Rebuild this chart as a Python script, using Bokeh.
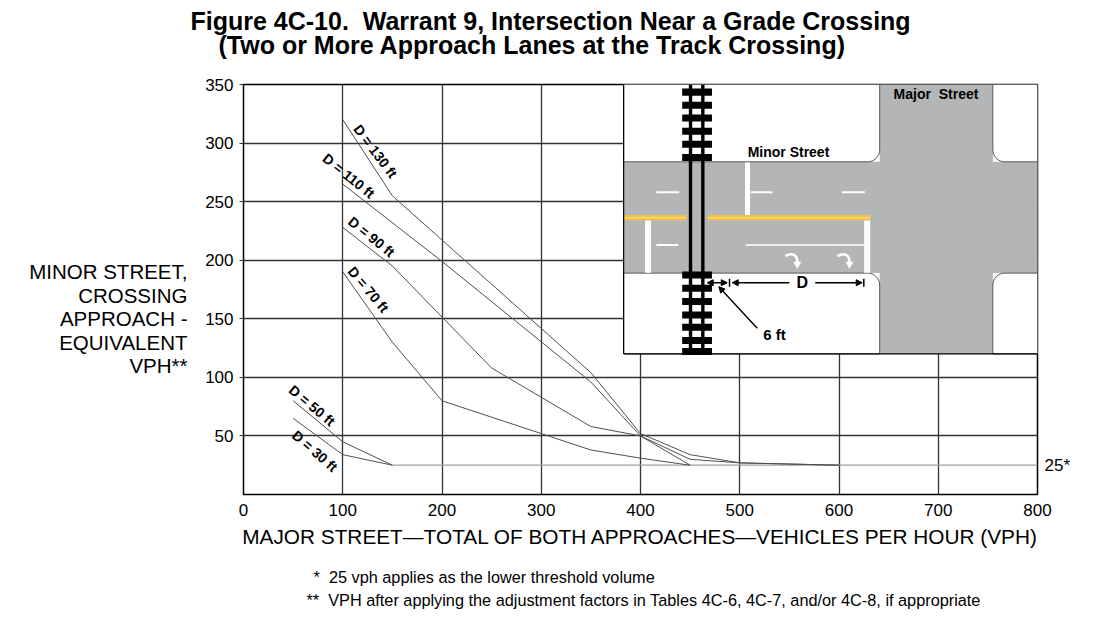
import numpy as np
from bokeh.plotting import figure
from bokeh.models import (Range1d, FixedTicker, Label, Arrow, NormalHead,
                          LinearAxis, Title)
from bokeh.core.properties import value
from bokeh.embed import file_html
from bokeh.resources import INLINE

# curves (major street vph, minor street vph)
x_d130 = [100, 150, 350, 400, 450, 500, 600]
y_d130 = [320, 255, 104, 52, 34, 27, 25]
x_d110 = [100, 200, 350, 400, 450, 500, 600]
y_d110 = [265, 199, 96, 50, 30, 27, 25]
x_d90 = [100, 150, 250, 350, 400, 450]
y_d90 = [228, 195, 108, 58, 50, 25]
x_d70 = [100, 150, 200, 350, 400, 450]
y_d70 = [190, 130, 80, 38, 31, 25]
x_d50 = [50, 100, 150]
y_d50 = [80, 45, 25]
x_d30 = [50, 100, 150]
y_d30 = [65, 34, 25]
threshold = 25
threshold_x = [150, 800]

curve_labels = ["D = 130 ft", "D = 110 ft", "D = 90 ft", "D = 70 ft", "D = 50 ft", "D = 30 ft"]
label_x = [133, 106, 129, 126, 69, 72]
label_y = [293, 272, 220, 175, 76, 37]
label_angle = [-53, -39, -39, -50, -40, -41]

x_ticks = [0, 100, 200, 300, 400, 500, 600, 700, 800]
y_ticks = [50, 100, 150, 200, 250, 300, 350]

y_label_lines = ["MINOR STREET,", "CROSSING", "APPROACH -", "EQUIVALENT", "VPH**"]
y_label_at = [190, 170, 150, 130, 110]

SANS = "Liberation Sans"
NBSP = "\u00a0"

p = figure(width=1086, height=612, output_backend="svg", toolbar_location=None,
           x_range=Range1d(0, 800), y_range=Range1d(0, 350),
           min_border_left=243, min_border_right=49, min_border_top=84, min_border_bottom=118)
p.outline_line_color = "black"
p.outline_line_width = 1.5
p.background_fill_color = "white"

xax = p.below[0]
yax = p.left[0]
xax.ticker = FixedTicker(ticks=x_ticks)
yax.ticker = FixedTicker(ticks=y_ticks)
for ax in (xax, yax):
    ax.axis_line_color = None
    ax.minor_tick_line_color = None
    ax.major_label_text_font = SANS
    ax.major_label_text_font_size = "17px"
    ax.major_label_text_color = "black"
xax.major_tick_line_color = None
xax.major_label_standoff = 3
yax.major_tick_in = 0
yax.major_tick_out = 4
yax.major_tick_line_color = "#333333"
yax.major_label_standoff = 6
xax.axis_label = "MAJOR STREET\u2014TOTAL OF BOTH APPROACHES\u2014VEHICLES PER HOUR (VPH)"
xax.axis_label_text_font = SANS
xax.axis_label_text_font_style = "normal"
xax.axis_label_text_font_size = "20.8px"
xax.axis_label_text_color = "black"
xax.axis_label_standoff = 6
p.grid.grid_line_color = "#333333"
p.grid.grid_line_width = 1.3
p.grid.grid_line_alpha = 1

# y-axis caption written horizontally, as labels of an extra left axis
cap_axis = LinearAxis(ticker=FixedTicker(ticks=y_label_at),
                      major_label_overrides={v: t for v, t in zip(y_label_at, y_label_lines)})
cap_axis.axis_line_color = None
cap_axis.major_tick_line_color = None
cap_axis.minor_tick_line_color = None
cap_axis.major_label_standoff = 9
cap_axis.major_label_text_font = SANS
cap_axis.major_label_text_font_size = "20.5px"
cap_axis.major_label_text_color = "black"
p.add_layout(cap_axis, "left")

# "25*" at the right end of the threshold line
thr_axis = LinearAxis(ticker=FixedTicker(ticks=[threshold]),
                      major_label_overrides={threshold: "25*"})
thr_axis.axis_line_color = None
thr_axis.major_tick_line_color = None
thr_axis.minor_tick_line_color = None
thr_axis.major_label_standoff = 1
thr_axis.major_label_text_font = SANS
thr_axis.major_label_text_font_size = "17px"
thr_axis.major_label_text_color = "black"
p.add_layout(thr_axis, "right")

# threshold and curves
p.line(threshold_x, [threshold, threshold], line_color="#a0a0a0", line_width=1.3)
for xs, ys in [(x_d130, y_d130), (x_d110, y_d110), (x_d90, y_d90),
               (x_d70, y_d70), (x_d50, y_d50), (x_d30, y_d30)]:
    p.line(xs, ys, line_color="#505050", line_width=1)

p.text(label_x, label_y, text=curve_labels, angle=label_angle, angle_units="deg",
       text_font=value(SANS), text_font_style="bold", text_font_size="14px",
       text_align="center", text_baseline="middle", text_color="black")

# ---- inset diagram (drawn in the chart's own units) ----
ix0, ix1, iy0, iy1 = 383, 800, 120, 350
road_y0, road_y1 = 189, 284
maj_x0, maj_x1 = 641, 755
rail_x = [450.4, 462.8]
tie_x0, tie_x1 = 442, 472
tie_y = [343.5, 332.2, 321.4, 310.1, 299.0, 287.7,
         187.4, 176.1, 164.7, 153.3, 142.8, 131.4, 122.0]
road_gray = "#b4b5b7"
sx_px, sy_px = 800 / 794, 350 / 410.5   # data units per screen pixel

p.quad(left=ix0, right=ix1, bottom=iy0, top=iy1, fill_color="white", line_color=None)
p.quad(left=ix0, right=ix1, bottom=road_y0, top=road_y1, fill_color=road_gray, line_color=None)
p.quad(left=maj_x0, right=maj_x1, bottom=iy0, top=iy1, fill_color=road_gray, line_color=None)

rx, ry = 12 * sx_px, 12 * sy_px


def block(x0, x1, y0, y1, cx, cy):
    sx = -1 if cx == x1 else 1
    sy = -1 if cy == y1 else 1
    t = np.linspace(0, np.pi / 2, 10)
    ax = cx + sx * rx - sx * rx * np.cos(t)
    ay = cy + sy * ry - sy * ry * np.sin(t)
    pts = []
    for (qx, qy) in [(x0, y0), (x1, y0), (x1, y1), (x0, y1)]:
        if qx == cx and qy == cy:
            arc = list(zip(ax, ay))
            prev = pts[-1] if pts else (x0, y1)
            if abs(arc[0][0] - prev[0]) + abs(arc[0][1] - prev[1]) > abs(arc[-1][0] - prev[0]) + abs(arc[-1][1] - prev[1]):
                arc = arc[::-1]
            pts.extend(arc)
        else:
            pts.append((qx, qy))
    return [q[0] for q in pts], [q[1] for q in pts]


for args in [(ix0, maj_x0, road_y1, iy1, maj_x0, road_y1),
             (maj_x1, ix1, road_y1, iy1, maj_x1, road_y1),
             (ix0, maj_x0, iy0, road_y0, maj_x0, road_y0),
             (maj_x1, ix1, iy0, road_y0, maj_x1, road_y0)]:
    bx, by = block(*args)
    p.patch(bx, by, fill_color="white", line_color="#555555", line_width=1)

# yellow centre line (double line with a pale gap)
yc = 236.3
for xa, xb in [(ix0, 446.3), (467.8, 631.7)]:
    p.quad(left=xa, right=xb, bottom=yc - 2.2, top=yc + 2.2, fill_color="#f3c13a", line_color=None)
    p.line([xa, xb], [yc, yc], line_color="#f9e3a6", line_width=1)

# white lane markings
p.multi_line([[416, 439], [511, 533], [603, 626], [416, 438]],
             [[258, 258], [258, 258], [258, 258], [213, 213]], line_color="white", line_width=2)
p.line([506, 627], [213, 213], line_color="white", line_width=1.6)
p.line([507.8, 507.8], [238.5, 283.5], line_color="white", line_width=5)
p.multi_line([[407.6, 407.6], [628.4, 628.4]], [[189.4, 234.0], [189.4, 234.0]],
             line_color="white", line_width=6)

# right-turn arrows
turn_x = [554, 606.5]
turn_y = 199.3
for cx in turn_x:
    p.bezier(x0=cx - 8 * sx_px, y0=turn_y + 5 * sy_px,
             cx0=cx - 1 * sx_px, cy0=turn_y + 9 * sy_px,
             cx1=cx + 4 * sx_px, cy1=turn_y + 6 * sy_px,
             x1=cx + 4 * sx_px, y1=turn_y - 1 * sy_px,
             line_color="white", line_width=2.6)
p.scatter(x=[cx + 4 * sx_px for cx in turn_x], y=[turn_y - 3 * sy_px] * 2,
          marker="inverted_triangle", size=8, fill_color="white", line_color=None)

# railway
p.multi_line([[x, x] for x in rail_x], [[iy0, iy1], [iy0, iy1]], line_color="black", line_width=3.4)
p.rect(x=[(tie_x0 + tie_x1) / 2] * len(tie_y), y=tie_y, width=tie_x1 - tie_x0, height=6,
       fill_color="black", line_color=None)

# inset frame
p.multi_line([[ix0, ix0], [ix0, ix1]], [[iy0, iy1], [iy0, iy0]], line_color="black", line_width=1.2)

# dimensions
dim_y = 180.8
p.multi_line([[489.7, 489.7], [625, 625]], [[dim_y - 3.4, dim_y + 3.4]] * 2, line_color="black", line_width=1.5)
head = dict(size=6, fill_color="black", line_color="black")
for xs, xe in [(477, 467.2), (477, 487.4), (550, 492.4), (576, 623.4)]:
    p.add_layout(Arrow(x_start=xs, y_start=dim_y, x_end=xe, y_end=dim_y,
                       end=NormalHead(**head), line_width=1.4))
p.add_layout(Arrow(x_start=517.6, y_start=142.0, x_end=478.9, y_end=177.4,
                   end=NormalHead(**head), line_width=1.4))
lab = dict(text_font=SANS, text_font_style="bold", text_color="black", text_baseline="middle")
p.add_layout(Label(x=563, y=dim_y, text="D", text_font_size="16px", text_align="center", **lab))
p.add_layout(Label(x=523.6, y=136.3, text="6 ft", text_font_size="15px", text_align="left", **lab))
p.add_layout(Label(x=697.7, y=342.0, text="Major" + NBSP + " Street", text_font_size="14px",
                   text_align="center", **lab))
p.add_layout(Label(x=549.1, y=292.4, text="Minor Street", text_font_size="14px",
                   text_align="center", **lab))

# ---- titles and notes ----
# spacer keeps the two title lines clear of the frame
p.add_layout(Title(text=NBSP, text_font_size="1px", standoff=23), "above")
p.add_layout(Title(text="(Two or More Approach Lanes at the Track Crossing)", align="left",
                   offset=-25, text_font=SANS, text_font_style="bold", text_font_size="25px",
                   text_color="black", standoff=0), "above")
p.add_layout(Title(text="Figure 4C-10." + NBSP + " Warrant 9, Intersection Near a Grade Crossing",
                   align="left", offset=-53, text_font=SANS, text_font_style="bold",
                   text_font_size="25px", text_color="black", standoff=-12), "above")

p.add_layout(Title(text="*" + NBSP + " 25 vph applies as the lower threshold volume", align="left", offset=70,
                   text_font=SANS, text_font_style="normal", text_font_size="16.3px",
                   text_color="black", standoff=30), "below")
p.add_layout(Title(text="**" + NBSP + " VPH after applying the adjustment factors in Tables 4C-6, 4C-7, and/or 4C-8, if appropriate",
                   align="left", offset=63, text_font=SANS, text_font_style="normal",
                   text_font_size="16.3px", text_color="black", vertical_align="top",
                   standoff=-19), "below")

open("out.html", "w").write(file_html(p, INLINE))
